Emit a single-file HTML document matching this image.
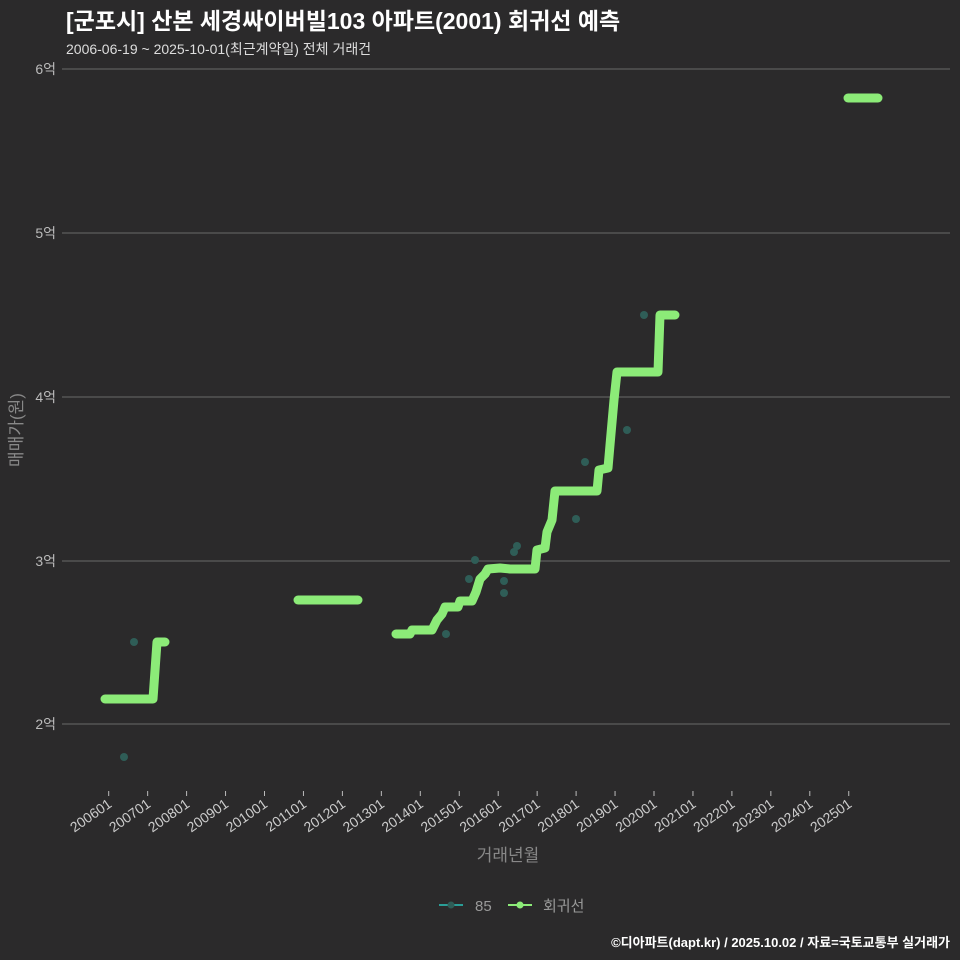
<!DOCTYPE html>
<html><head><meta charset="utf-8"><style>
body{margin:0;background:#2b2a2b;}
svg{display:block;font-family:"Liberation Sans","Noto Sans CJK KR",sans-serif;}
</style></head><body>
<svg width="960" height="960" viewBox="0 0 960 960">
<rect width="960" height="960" fill="#2b2a2b"/>
<text x="66" y="29" font-size="23" font-weight="bold" fill="#ffffff">[군포시] 산본 세경싸이버빌103 아파트(2001) 회귀선 예측</text>
<text x="66" y="54" font-size="14" fill="#dddddd">2006-06-19 ~ 2025-10-01(최근계약일) 전체 거래건</text>
<g stroke="#5d5d5d" stroke-width="1.2">
<line x1="62" y1="69" x2="950" y2="69"/><line x1="62" y1="233" x2="950" y2="233"/>
<line x1="62" y1="397" x2="950" y2="397"/><line x1="62" y1="561" x2="950" y2="561"/>
<line x1="62" y1="724" x2="950" y2="724"/>
</g>
<g font-size="14" fill="#bbbbbb" text-anchor="end">
<text x="56" y="74">6억</text><text x="56" y="238">5억</text><text x="56" y="402">4억</text><text x="56" y="566">3억</text><text x="56" y="729">2억</text>
</g>
<text transform="translate(22,430) rotate(-90)" font-size="17" fill="#888888" text-anchor="middle">매매가(원)</text>
<g id="ticks" stroke="#bbbbbb" stroke-width="1"></g>
<g id="tl" font-size="14" fill="#cccccc" text-anchor="end"></g>
<text x="508" y="861" font-size="17" fill="#888888" text-anchor="middle">거래년월</text>
<g fill="#2f5d57">
<circle cx="124" cy="757" r="4"/><circle cx="134" cy="642" r="4"/><circle cx="446" cy="634" r="4"/>
<circle cx="469" cy="579" r="4"/><circle cx="475" cy="560" r="4"/><circle cx="504" cy="581" r="4"/>
<circle cx="504" cy="593" r="4"/><circle cx="514" cy="552" r="4"/><circle cx="517" cy="546" r="4"/>
<circle cx="576" cy="519" r="4"/><circle cx="585" cy="462" r="4"/><circle cx="627" cy="430" r="4"/>
<circle cx="644" cy="315" r="4"/>
</g>
<g fill="none" stroke="#8ceb78" stroke-width="9" stroke-linecap="round" stroke-linejoin="round">
<polyline points="105,699 153,699 157,642 165,642"/>
<polyline points="298,600 358,600"/>
<polyline points="396,634 410,634 412,630 432,630 437,620 442,614 445,607 458,607 460,601 472,601 476,592 480,579 485,574 488,569 500,568 510,569 535,569 537,550 545,548 547,532 552,520 555,491 597,491 599,470 608,468 610,445 614,400 617,372 658,372 660,315 675,315"/>
<polyline points="848,98 878,98"/>
</g>
<line x1="439" y1="905" x2="463" y2="905" stroke="#2a9d96" stroke-width="2"/>
<circle cx="451" cy="905" r="3.5" fill="#2f5d57"/>
<text x="475" y="911" font-size="15" fill="#999999">85</text>
<line x1="508" y1="905" x2="532" y2="905" stroke="#8ceb78" stroke-width="2"/>
<circle cx="520" cy="905" r="3.5" fill="#8ceb78"/>
<text x="543" y="911" font-size="15" fill="#999999">회귀선</text>
<text x="950" y="947" font-size="13" font-weight="bold" fill="#ffffff" text-anchor="end">©디아파트(dapt.kr) / 2025.10.02 / 자료=국토교통부 실거래가</text>
<script>
var t=document.getElementById('ticks'),l=document.getElementById('tl'),ns='http://www.w3.org/2000/svg';
for(var i=0;i<20;i++){var x=108.7+i*38.95;
var ln=document.createElementNS(ns,'line');ln.setAttribute('x1',x);ln.setAttribute('x2',x);ln.setAttribute('y1',791);ln.setAttribute('y2',796);t.appendChild(ln);
var tx=document.createElementNS(ns,'text');tx.setAttribute('transform','translate('+(x+4)+',806) rotate(-35)');tx.textContent=(2006+i)+'01';l.appendChild(tx);}
</script>
</svg>
</body></html>
